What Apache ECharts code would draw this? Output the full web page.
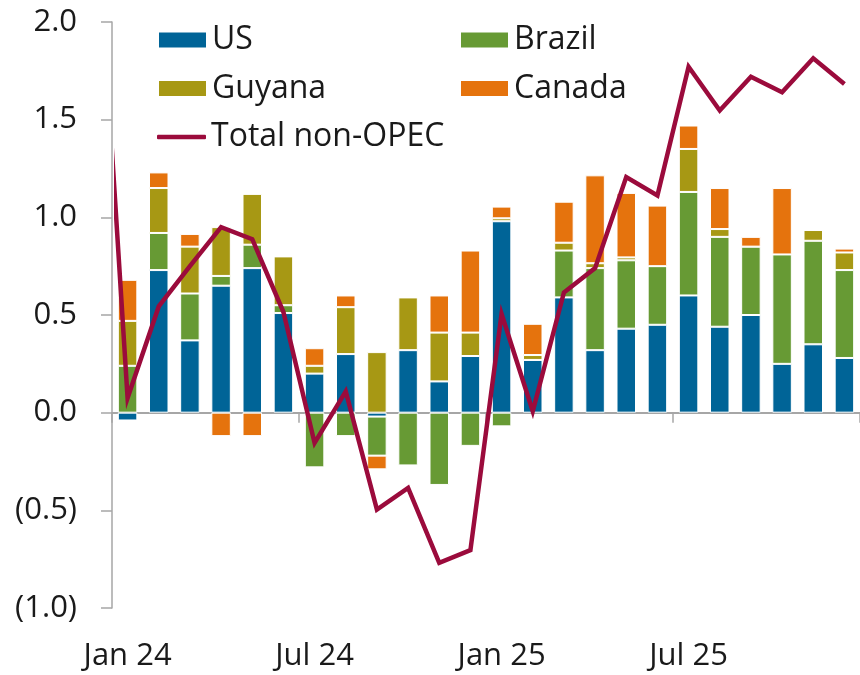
<!DOCTYPE html>
<html>
<head>
<meta charset="utf-8">
<script src="https://cdn.jsdelivr.net/npm/echarts@6/dist/echarts.min.js"></script>
<style>
  html, body { margin: 0; padding: 0; background: #fff; }
  #main { width: 860px; height: 675px; }
</style>
</head>
<body>
<div id="main"></div>
<script>
// months on the category axis
let months = ['Jan 24', 'Feb 24', 'Mar 24', 'Apr 24', 'May 24', 'Jun 24',
    'Jul 24', 'Aug 24', 'Sep 24', 'Oct 24', 'Nov 24', 'Dec 24',
    'Jan 25', 'Feb 25', 'Mar 25', 'Apr 25', 'May 25', 'Jun 25',
    'Jul 25', 'Aug 25', 'Sep 25', 'Oct 25', 'Nov 25', 'Dec 25']

let usVals = [-0.04, 0.73, 0.37, 0.65, 0.74, 0.51, 0.20, 0.30, -0.02, 0.32, 0.16, 0.29,
    0.98, 0.27, 0.59, 0.32, 0.43, 0.45, 0.60, 0.44, 0.50, 0.25, 0.35, 0.28]
let brazilVals = [0.24, 0.19, 0.24, 0.05, 0.12, 0.04, -0.28, -0.12, -0.20, -0.27, -0.37, -0.17,
    -0.07, 0, 0.24, 0.42, 0.35, 0.30, 0.53, 0.46, 0.35, 0.56, 0.53, 0.45]
let guyanaVals = [0.23, 0.23, 0.24, 0.25, 0.26, 0.25, 0.04, 0.24, 0.31, 0.27, 0.25, 0.12,
    0.015, 0.025, 0.04, 0.025, 0.015, 0, 0.22, 0.04, 0, 0, 0.055, 0.09]
let canadaVals = [0.21, 0.08, 0.065, -0.12, -0.12, 0, 0.09, 0.06, -0.07, 0, 0.19, 0.42,
    0.06, 0.16, 0.21, 0.45, 0.33, 0.31, 0.12, 0.21, 0.05, 0.34, 0, 0.02]

// total non-OPEC, first value is Dec 23 (only its segment shows at the left edge)
let totalVals = [2.6, 0.075, 0.544, 0.75, 0.95, 0.888, 0.515, -0.155, 0.109, -0.496, -0.385, -0.769, -0.704,
    0.505, 0.007, 0.615, 0.74, 1.206, 1.112, 1.771, 1.547, 1.72, 1.64, 1.814, 1.683]

let yTicks = [-1, 2, 0.5] // min, max, interval

let myChart = echarts.init(document.getElementById('main'))

let font = 'Open Sans'
let txt = '#1a1a1a'
let axisGrey = '#a6a6a6'
let lineColor = '#9b0b3c'
let gridLeft = 112, gridTop = 22

function barSeries(name, data, color) {
    return {
        name: name,
        type: 'bar',
        stack: 'total',
        xAxisIndex: 0,
        yAxisIndex: 0,
        barWidth: 19.5,
        data: data,
        itemStyle: {
            color: color,
            borderColor: '#fff',
            borderWidth: 1
        }
    }
}

function legendBox(left, top, names, h, icon) {
    return {
        orient: 'vertical',
        left: left,
        top: top,
        padding: 0,
        itemWidth: 49,
        itemHeight: h,
        itemGap: 16.5,
        icon: icon,
        textStyle: { fontSize: 32, color: txt, fontFamily: font },
        data: names
    }
}

let option = {
    animation: false,
    textStyle: { fontFamily: font },
    grid: { left: gridLeft, top: gridTop, width: 755, height: 586, containLabel: false },
    legend: [
        legendBox(157, 24, ['US', 'Guyana'], 17, 'rect'),
        legendBox(459, 24, ['Brazil', 'Canada'], 17, 'rect'),
        legendBox(157, 121, ['Total non-OPEC'], 4.5, 'roundRect')
    ],
    // white strip at the y axis, hides the part of the line the clip path lets through
    graphic: [{
        type: 'rect',
        left: gridLeft - 14,
        top: gridTop - 10,
        shape: { width: 16, height: 250 },
        style: { fill: '#fff' },
        z: 6
    }],
    xAxis: [{
        // labels at the bottom of the plot
        type: 'category',
        data: months,
        position: 'bottom',
        axisLine: { show: false, onZero: false },
        axisTick: { show: false },
        axisLabel: { interval: 5, margin: 33, fontSize: 31, color: txt, fontFamily: font }
    }, {
        // zero line with ticks
        type: 'category',
        data: months,
        position: 'bottom',
        axisLine: { show: true, onZero: true, lineStyle: { color: axisGrey, width: 2 } },
        axisTick: { show: true, interval: 5, length: 10, lineStyle: { color: axisGrey, width: 1.5 } },
        axisLabel: { show: false }
    }, {
        // hidden value axis for the line so the Dec 23 segment is clipped at the edge
        type: 'value',
        min: -0.5,
        max: months.length - 0.5,
        show: false
    }],
    yAxis: {
        type: 'value',
        z: 10,
        min: yTicks[0],
        max: yTicks[1],
        interval: yTicks[2],
        splitLine: { show: false },
        axisLine: { show: true, onZero: false, lineStyle: { color: axisGrey, width: 1.5 } },
        axisTick: { show: true, length: 11, lineStyle: { color: axisGrey, width: 1.5 } },
        axisLabel: {
            margin: 35,
            fontSize: 31,
            color: txt,
            fontFamily: font,
            formatter: function (v) {
                return v < 0 ? '(' + Math.abs(v).toFixed(1) + ')' : v.toFixed(1)
            }
        }
    },
    series: [
        barSeries('US', usVals, '#006497'),
        barSeries('Brazil', brazilVals, '#679a34'),
        barSeries('Guyana', guyanaVals, '#a79814'),
        barSeries('Canada', canadaVals, '#e5730d'),
        {
            name: 'Total non-OPEC',
            type: 'line',
            xAxisIndex: 2,
            yAxisIndex: 0,
            symbol: 'none',
            clip: true,
            data: totalVals.map((v, i) => [i - 1, v]),
            lineStyle: { color: lineColor, width: 4.5, join: 'miter' },
            itemStyle: { color: lineColor },
            z: 5
        }
    ]
}

myChart.setOption(option)
</script>
</body>
</html>
